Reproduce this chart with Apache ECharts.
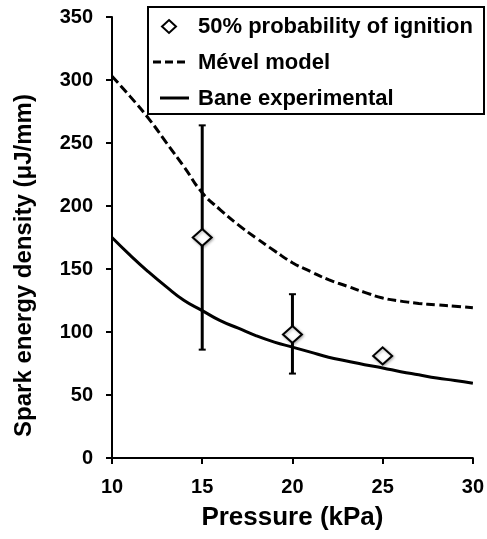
<!DOCTYPE html>
<html>
<head>
<meta charset="utf-8">
<script src="https://cdn.jsdelivr.net/npm/echarts@6/dist/echarts.min.js"></script>
<style>html,body{margin:0;padding:0;background:#fff}#c{width:487px;height:539px}</style>
</head>
<body>
<div id="c"></div>
<script>
// Data
var pressure = [10,11,12,13,14,15,16,17,18,19,20,21,22,23,24,25,26,27,28,29,30];
var mevel = [303,287,270,250.5,231,210.5,197,185,174.5,164.5,155,148,141.5,136.5,131.5,127,124.5,122.7,121.5,120.5,119.3];
var bane = [175,161,148,136,125,117,109,103,97,92,88,84,80,77,74,71.5,68.5,66,63.5,61.5,59.3];
var expPressure = [15,20,25];
var expValue = [175,98,81];
var errLow = [86,67,null];
var errHigh = [264,130,null];
var xTicks = {min:10,max:30,interval:5};
var yTicks = {min:0,max:350,interval:50};
var legendNames = ['50% probability of ignition','Mével model','Bane experimental'];

var FONT = "'Liberation Sans', Arial, sans-serif";
var chart = echarts.init(document.getElementById('c'));

function zip(a,b){return a.map(function(v,i){return [v,b[i]];});}
var errData = [];
for (var i=0;i<expPressure.length;i++){ if(errLow[i]!=null) errData.push([expPressure[i],errLow[i],errHigh[i]]); }

var legendItems = [];
var rowY = [26,62,98];
legendItems.push({type:'rect',shape:{x:148,y:7,width:336,height:107},style:{fill:'#fff',stroke:'#000',lineWidth:2},z:10});
legendItems.push({type:'polygon',shape:{points:[[169,20],[176,26.5],[169,33],[162,26.5]]},style:{fill:'#fff',stroke:'#000',lineWidth:2},z:11});
legendItems.push({type:'line',shape:{x1:153,y1:rowY[1],x2:189,y2:rowY[1]},style:{stroke:'#000',lineWidth:3,lineDash:[8,4]},z:11});
legendItems.push({type:'line',shape:{x1:160,y1:rowY[2],x2:189,y2:rowY[2]},style:{stroke:'#000',lineWidth:3},z:11});
for (var k=0;k<3;k++){
  legendItems.push({type:'text',x:198,y:rowY[k]+1,style:{text:legendNames[k],font:'bold 22px '+FONT,fill:'#000',textVerticalAlign:'middle',textBaseline:'middle'},z:11});
}

chart.setOption({
  animation:false,
  backgroundColor:'#fff',
  grid:{left:112,right:14,top:17,bottom:81,containLabel:false},
  xAxis:{type:'value',min:xTicks.min,max:xTicks.max,interval:xTicks.interval,
    name:'Pressure (kPa)',nameLocation:'middle',nameGap:47,
    nameTextStyle:{fontSize:26,fontWeight:'bold',color:'#000',fontFamily:FONT},
    axisLine:{show:true,onZero:false,lineStyle:{color:'#000',width:2}},
    axisTick:{show:true,inside:false,length:6,lineStyle:{color:'#000',width:2}},
    axisLabel:{fontSize:20,fontWeight:'bold',color:'#000',fontFamily:FONT,margin:19},
    splitLine:{show:false}},
  yAxis:{type:'value',min:yTicks.min,max:yTicks.max,interval:yTicks.interval,
    name:'Spark energy density (μJ/mm)',nameLocation:'middle',nameGap:76,
    nameTextStyle:{fontSize:24,fontWeight:'bold',color:'#000',fontFamily:FONT,padding:[0,56,0,0]},
    axisLine:{show:true,lineStyle:{color:'#000',width:2}},
    axisTick:{show:true,inside:false,length:6,lineStyle:{color:'#000',width:2}},
    axisLabel:{fontSize:20,fontWeight:'bold',color:'#000',fontFamily:FONT,margin:19},
    splitLine:{show:false}},
  series:[
    {name:legendNames[1],type:'line',data:zip(pressure,mevel),smooth:true,showSymbol:false,
      lineStyle:{color:'#000',width:3,type:[9,4]},z:2},
    {name:legendNames[2],type:'line',data:zip(pressure,bane),smooth:true,showSymbol:false,
      lineStyle:{color:'#000',width:3},z:2},
    {type:'custom',data:errData,z:3,
      renderItem:function(params,api){
        var x=api.value(0), lo=api.coord([x,api.value(1)]), hi=api.coord([x,api.value(2)]);
        var w=3.5;
        return {type:'group',children:[
          {type:'line',shape:{x1:lo[0],y1:lo[1],x2:hi[0],y2:hi[1]},style:{stroke:'#000',lineWidth:3}},
          {type:'line',shape:{x1:lo[0]-w,y1:lo[1],x2:lo[0]+w,y2:lo[1]},style:{stroke:'#000',lineWidth:2}},
          {type:'line',shape:{x1:hi[0]-w,y1:hi[1],x2:hi[0]+w,y2:hi[1]},style:{stroke:'#000',lineWidth:2}}
        ]};
      }},
    {name:legendNames[0],type:'scatter',data:zip(expPressure,expValue),symbol:'diamond',symbolSize:[19,17],z:5,
      itemStyle:{color:'#fff',opacity:1,borderColor:'#000',borderWidth:2,shadowBlur:3,shadowColor:'rgba(0,0,0,0.3)',shadowOffsetX:1,shadowOffsetY:1}}
  ],
  graphic:legendItems
});
</script>
</body>
</html>
